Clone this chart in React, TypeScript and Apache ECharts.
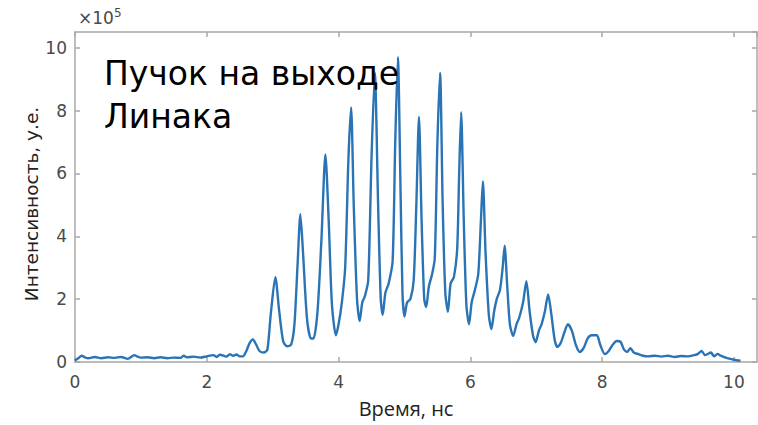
import React, { useEffect, useRef } from "react";
import * as echarts from "echarts";

// Time, ns
const timeNs: number[] = [
  0.0, 0.05, 0.1, 0.15, 0.2, 0.3, 0.4, 0.5, 0.6, 0.7, 0.8, 0.9, 0.95, 1.0, 1.1, 1.2, 1.3, 1.4, 1.5, 1.6,
  1.65, 1.7, 1.8, 1.9, 2.0, 2.1, 2.15, 2.2, 2.3, 2.35, 2.4, 2.45, 2.5, 2.55, 2.6, 2.65, 2.7, 2.75, 2.8, 2.87,
  2.92, 2.97, 3.04, 3.1, 3.16, 3.22, 3.28, 3.33, 3.38, 3.42, 3.46, 3.52, 3.58, 3.62, 3.68, 3.74, 3.8, 3.85, 3.9, 3.96,
  4.0, 4.05, 4.1, 4.15, 4.19, 4.23, 4.28, 4.32, 4.36, 4.4, 4.45, 4.5, 4.55, 4.6, 4.64, 4.67, 4.71, 4.76, 4.82, 4.86,
  4.9, 4.94, 4.97, 5.0, 5.04, 5.09, 5.14, 5.18, 5.22, 5.26, 5.3, 5.33, 5.37, 5.42, 5.46, 5.5, 5.54, 5.58, 5.62, 5.66,
  5.7, 5.75, 5.8, 5.83, 5.86, 5.9, 5.94, 5.98, 6.02, 6.07, 6.12, 6.16, 6.19, 6.23, 6.28, 6.32, 6.36, 6.4, 6.45, 6.49,
  6.52, 6.56, 6.6, 6.65, 6.7, 6.74, 6.8, 6.85, 6.9, 6.95, 6.99, 7.04, 7.08, 7.13, 7.18, 7.23, 7.28, 7.32, 7.37, 7.42,
  7.48, 7.54, 7.6, 7.66, 7.72, 7.78, 7.84, 7.92, 7.97, 8.04, 8.1, 8.16, 8.22, 8.28, 8.33, 8.38, 8.43, 8.48, 8.55, 8.62,
  8.7, 8.8, 8.9, 9.0, 9.1, 9.2, 9.3, 9.4, 9.45, 9.51, 9.56, 9.6, 9.65, 9.7, 9.75, 9.8, 9.9, 10.0, 10.1,
];

// Intensity, ×10^5 a.u.
const intensity: number[] = [
  0.05, 0.12, 0.2, 0.15, 0.12, 0.16, 0.12, 0.15, 0.13, 0.16, 0.1, 0.22, 0.17, 0.14, 0.15, 0.12, 0.15, 0.12, 0.14, 0.13,
  0.2, 0.15, 0.17, 0.14, 0.18, 0.22, 0.16, 0.23, 0.17, 0.25, 0.2, 0.24, 0.18, 0.18, 0.35, 0.6, 0.72, 0.55, 0.35, 0.3,
  0.4, 1.5, 2.7, 1.6, 0.65, 0.5, 0.55, 1.2, 3.2, 4.7, 3.5, 1.4, 0.75, 0.75, 1.6, 3.9, 6.6, 4.5, 1.8, 0.85,
  1.2, 1.9, 3.0, 6.5, 8.1, 5.0, 2.0, 1.3, 1.9, 2.1, 2.6, 6.5, 9.2, 5.0, 2.0, 1.5, 2.2, 2.5, 3.2, 7.0,
  9.7, 5.5, 2.2, 1.45, 1.9, 2.0, 2.6, 5.0, 7.8, 4.5, 2.0, 1.75, 2.4, 2.8, 3.3, 7.0, 9.2, 5.0, 2.2, 1.6,
  2.5, 2.7, 3.6, 6.0, 7.95, 4.5, 1.8, 1.2, 1.9, 2.3, 2.8, 4.5, 5.75, 3.5, 1.5, 1.05, 1.6, 2.0, 2.3, 3.0,
  3.7, 2.4, 1.2, 0.83, 1.2, 1.4, 1.9, 2.57, 1.6, 0.85, 0.63, 1.0, 1.2, 1.6, 2.15, 1.5, 0.7, 0.48, 0.6, 0.9,
  1.2, 1.0, 0.55, 0.32, 0.45, 0.75, 0.85, 0.85, 0.55, 0.25, 0.35, 0.55, 0.67, 0.64, 0.4, 0.32, 0.44, 0.3, 0.25, 0.2,
  0.18, 0.2, 0.17, 0.2, 0.16, 0.19, 0.18, 0.22, 0.25, 0.35, 0.22, 0.25, 0.3, 0.18, 0.26, 0.2, 0.12, 0.07, 0.04,
];

const xTicks: number[] = [0, 2, 4, 6, 8, 10];
const yTicks: number[] = [0, 2, 4, 6, 8, 10];

const xTitle = "Время, нс";
const yTitle = "Интенсивность, у.е.";
const annotationLines = ["Пучок на выходе", "Линака"];

export default function App() {
  const ref = useRef<HTMLDivElement>(null);

  useEffect(() => {
    document.body.style.margin = "0";
    if (!ref.current) return;
    const chart = echarts.init(ref.current, null, { renderer: "svg" });
    const data = timeNs.map((t, i) => [t, intensity[i]]);
    const tickFont = { fontFamily: "DejaVu Sans, sans-serif", fontSize: 17, color: "#4a4a4a" };
    const xFmt = (v: number) => (xTicks.includes(v) ? String(v) : "");
    const yFmt = (v: number) => (yTicks.includes(v) ? String(v) : "");
    const axisLineStyle = { color: "#a8a8a8", width: 1.5 };

    chart.setOption({
      animation: false,
      backgroundColor: "#ffffff",
      grid: { left: 75, right: 1, top: 32, height: 330, containLabel: false },
      xAxis: [
        {
          type: "value",
          min: 0,
          max: 10.35,
          interval: 2,
          position: "bottom",
          axisLine: { show: true, onZero: false, lineStyle: axisLineStyle },
          axisTick: { show: true, inside: true, length: 5, lineStyle: axisLineStyle },
          axisLabel: { ...tickFont, margin: 11, formatter: xFmt, showMaxLabel: false },
          splitLine: { show: false },
        },
        {
          type: "value",
          min: 0,
          max: 10.35,
          interval: 2,
          position: "top",
          axisLine: { show: true, onZero: false, lineStyle: axisLineStyle },
          axisTick: { show: true, inside: true, length: 5, lineStyle: axisLineStyle },
          axisLabel: { show: false },
          splitLine: { show: false },
        },
      ],
      yAxis: [
        {
          type: "value",
          min: 0,
          max: 10.5,
          interval: 2,
          position: "left",
          axisLine: { show: true, onZero: false, lineStyle: axisLineStyle },
          axisTick: { show: true, inside: true, length: 5, lineStyle: axisLineStyle },
          axisLabel: { ...tickFont, margin: 8, formatter: yFmt, showMaxLabel: false },
          splitLine: { show: false },
        },
        {
          type: "value",
          min: 0,
          max: 10.5,
          interval: 2,
          position: "right",
          axisLine: { show: true, onZero: false, lineStyle: axisLineStyle },
          axisTick: { show: true, inside: true, length: 5, lineStyle: axisLineStyle },
          axisLabel: { show: false },
          splitLine: { show: false },
        },
      ],
      series: [
        {
          type: "line",
          data,
          xAxisIndex: 0,
          yAxisIndex: 0,
          showSymbol: false,
          smooth: 0.25,
          lineStyle: { color: "#2a74b5", width: 2.4 },
          z: 2,
        },
      ],
      graphic: [
        {
          type: "text",
          left: 78,
          top: 7,
          z: 10,
          style: {
            text: "×10{s|5}",
            rich: { s: { fontSize: 12, verticalAlign: "top", padding: [0, 0, 9, 0], fontFamily: "DejaVu Sans, sans-serif", fill: "#4a4a4a" } },
            fontFamily: "DejaVu Sans, sans-serif",
            fontSize: 17,
            fill: "#4a4a4a",
          },
        },
        {
          type: "text",
          x: 31,
          y: 204,
          rotation: Math.PI / 2,
          z: 10,
          style: {
            text: yTitle,
            align: "center",
            verticalAlign: "middle",
            fontFamily: "DejaVu Sans, sans-serif",
            fontSize: 18.5,
            fill: "#222222",
          },
        },
        {
          type: "text",
          x: 406,
          y: 408,
          z: 10,
          style: {
            text: xTitle,
            align: "center",
            verticalAlign: "middle",
            fontFamily: "Open Sans, sans-serif",
            fontSize: 20,
            fill: "#222222",
          },
        },
        {
          type: "text",
          x: 104,
          y: 73,
          z: 20,
          style: {
            text: annotationLines[0],
            align: "left",
            verticalAlign: "middle",
            fontFamily: "DejaVu Sans, sans-serif",
            fontSize: 33,
            fill: "#000000",
          },
        },
        {
          type: "text",
          x: 104,
          y: 116,
          z: 20,
          style: {
            text: annotationLines[1],
            align: "left",
            verticalAlign: "middle",
            fontFamily: "DejaVu Sans, sans-serif",
            fontSize: 33,
            fill: "#000000",
          },
        },
      ],
    });
    return () => chart.dispose();
  }, []);

  return <div ref={ref} style={{ width: 758, height: 425 }} />;
}
